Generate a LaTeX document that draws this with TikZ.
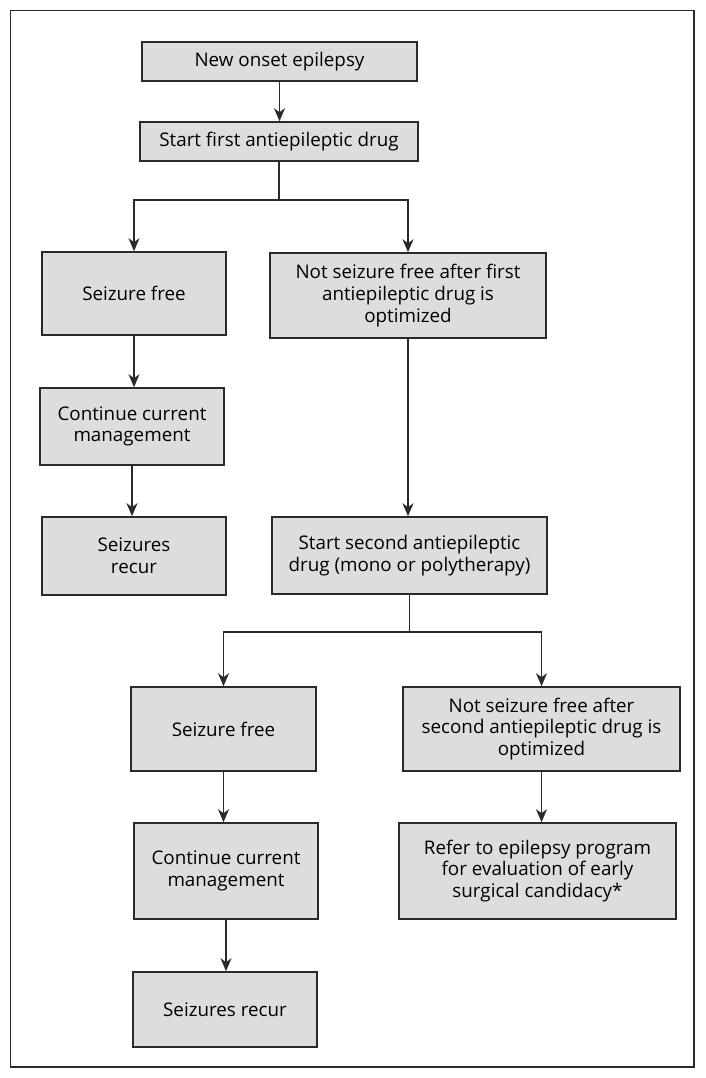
\documentclass[tikz,border=0pt]{standalone}
\usepackage{fontspec}
\setmainfont{Open Sans}
\usetikzlibrary{arrows.meta}
\definecolor{boxfill}{HTML}{DCDDDF}
\definecolor{edge}{HTML}{2A2A2A}
\tikzset{
  box/.style={draw=edge, line width=1.6pt, fill=boxfill, inner sep=0pt, align=center,
    font=\fontsize{18.8}{21.7}\selectfont, text=black},
  arr/.style={draw=edge, line width=1.4pt, -{Stealth[length=13pt,width=11pt,inset=4pt]}},
  ln/.style={draw=edge, line width=1.4pt}
}
\begin{document}
\begin{tikzpicture}[x=1pt,y=-1pt]
\useasboundingbox (0,0) rectangle (705,1078);
\draw[draw=edge, line width=1.5pt] (10.5,10.5) rectangle (694,1067);
% nodes: center, width, height
\node[box, minimum width=275, minimum height=39] (n1) at (279.5,61.5) {New onset epilepsy};
\node[box, minimum width=278, minimum height=39] (n2) at (279,141.5) {Start first antiepileptic drug};
\node[box, minimum width=184, minimum height=83] (sf1) at (134,293.5) {Seizure free};
\node[box, minimum width=276, minimum height=85] (nsf1) at (408,295.5) {Not seizure free after first\\antiepileptic drug is\\optimized};
\node[box, minimum width=184, minimum height=77] (cc1) at (132,426.5) {Continue current\\management};
\node[box, minimum width=184, minimum height=78] (sr1) at (134,556) {Seizures\\recur};
\node[box, minimum width=275, minimum height=77] (ss) at (409.5,555.5) {Start second antiepileptic\\drug (mono or polytherapy)};
\node[box, minimum width=185, minimum height=84] (sf2) at (223.5,729) {Seizure free};
\node[box, minimum width=277, minimum height=84] (nsf2) at (541.5,729) {Not seizure free after\\second antiepileptic drug is\\optimized};
\node[box, minimum width=184, minimum height=96] (cc2) at (226,871) {Continue current\\management};
\node[box, minimum width=277, minimum height=96] (ref) at (537.5,871) {Refer to epilepsy program\\for evaluation of early\\surgical candidacy*};
\node[box, minimum width=184, minimum height=75] (sr2) at (225,1009.5) {Seizures recur};
% connectors
\coordinate (b1) at (279,200);
\coordinate (b2) at (409.5,632);
\draw[arr] (n1.south) -- (n1.south |- n2.north);
\draw[ln] (n2.south) -- (n2.south |- b1);
\draw[arr] (n2.south |- b1) -| (sf1.north);
\draw[arr] (n2.south |- b1) -| (nsf1.north);
\draw[arr] (sf1.south) -- (sf1.south |- cc1.north);
\draw[arr] (cc1.south) -- (cc1.south |- sr1.north);
\draw[arr] (nsf1.south) -- (nsf1.south |- ss.north);
\draw[ln] (ss.south) -- (b2);
\draw[arr] (b2) -| (sf2.north);
\draw[arr] (b2) -| (nsf2.north);
\draw[arr] (sf2.south) -- (sf2.south |- cc2.north);
\draw[arr] (cc2.south) -- (cc2.south |- sr2.north);
\draw[arr] (nsf2.south) -- (nsf2.south |- ref.north);
\end{tikzpicture}
\end{document}
